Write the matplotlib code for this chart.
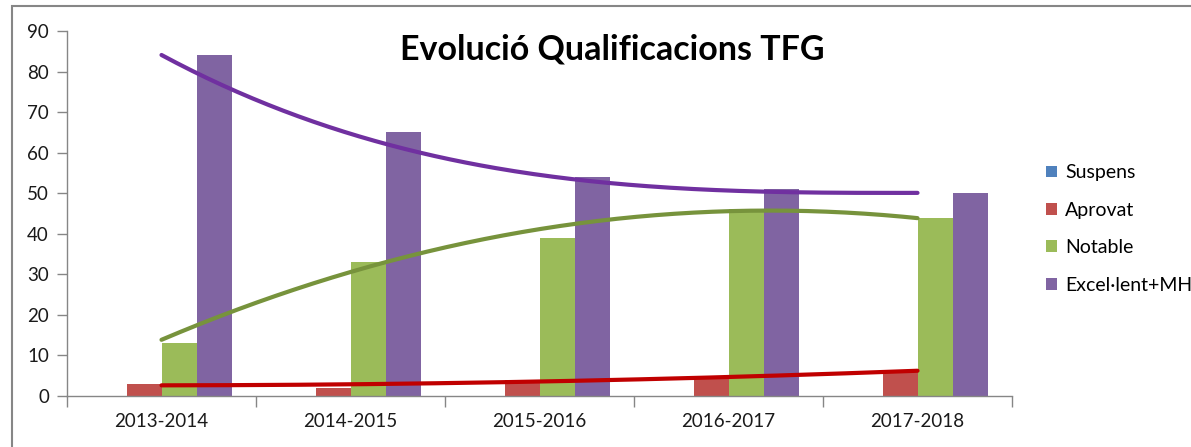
import numpy as np
import matplotlib
matplotlib.use('Agg')
import matplotlib.pyplot as plt
from matplotlib.patches import Patch, Rectangle

plt.rcParams['font.family'] = ['Lato', 'DejaVu Sans']

cursos = ['2013-2014', '2014-2015', '2015-2016', '2016-2017', '2017-2018']
series = ['Suspens', 'Aprovat', 'Notable', 'Excel·lent+MH']
suspens = [0, 0, 0, 0, 0]
aprovat = [3, 2, 4, 5, 6]
notable = [13, 33, 39, 46, 44]
excel = [84, 65, 54, 51, 50]

colors = ['#4F81BD', '#C0504D', '#9BBB59', '#8064A2']
# color i grau del polinomi de la linia de tendencia
trend = {1: ('#C00000', 2), 2: ('#77933C', 2), 3: ('#7030A0', 3)}

W, H = 1191, 447
fig = plt.figure(figsize=(W/100, H/100), dpi=100)
ax = fig.add_axes([67/W, 1-396/H, (1012-67)/W, (396-31)/H])

x = np.arange(len(cursos))
w = 35/189
data = [suspens, aprovat, notable, excel]
for i, vals in enumerate(data):
    ax.bar(x + (i-1.5)*w, vals, width=w, color=colors[i], zorder=2)

# linies de tendencia (polinomiques)
xs = np.linspace(0, 4, 200)
for i, (c, deg) in trend.items():
    p = np.polyfit(x, data[i], deg)
    ax.plot(xs, np.polyval(p, xs), color=c, lw=3, zorder=3,
            solid_capstyle='round')

ax.set_xlim(-0.5, 4.5)
ax.set_ylim(0, 90)
ax.set_yticks(range(0, 91, 10))
ax.set_xticks(np.arange(-0.5, 5, 1))
ax.set_xticklabels([])
ax.set_xticks(x, minor=True)
ax.set_xticklabels(cursos, minor=True)
ax.tick_params(axis='x', which='major', length=8, color='#868686', width=1)
ax.tick_params(axis='x', which='minor', length=0, pad=12, labelsize=13.5, labelcolor='#1a1a1a')
ax.tick_params(axis='y', length=7, color='#868686', width=1, labelsize=13.5,
               labelcolor='#1a1a1a', pad=6)
for s in ['top', 'right']:
    ax.spines[s].set_visible(False)
for s in ['left', 'bottom']:
    ax.spines[s].set_color('#868686')
    ax.spines[s].set_linewidth(1)

fig.text(612/W, 1-49/H, 'Evolució Qualificacions TFG', ha='center', va='center',
         fontsize=24.5, fontweight='bold', color='black')

handles = [Patch(facecolor=c, edgecolor='none') for c in colors]
fig.legend(handles, series, loc='center left', bbox_to_anchor=(1046/W, 1-229/H),
           frameon=False, fontsize=14, handlelength=0.57, handleheight=0.57,
           handletextpad=0.4, labelspacing=1.05, borderpad=0, borderaxespad=0)

fig.patches.append(Rectangle((12/W, -0.05), 1.1, 1-6/H+0.05, transform=fig.transFigure,
                             fill=False, edgecolor='#868686', lw=1.5))

fig.savefig('out.png', dpi=100)
